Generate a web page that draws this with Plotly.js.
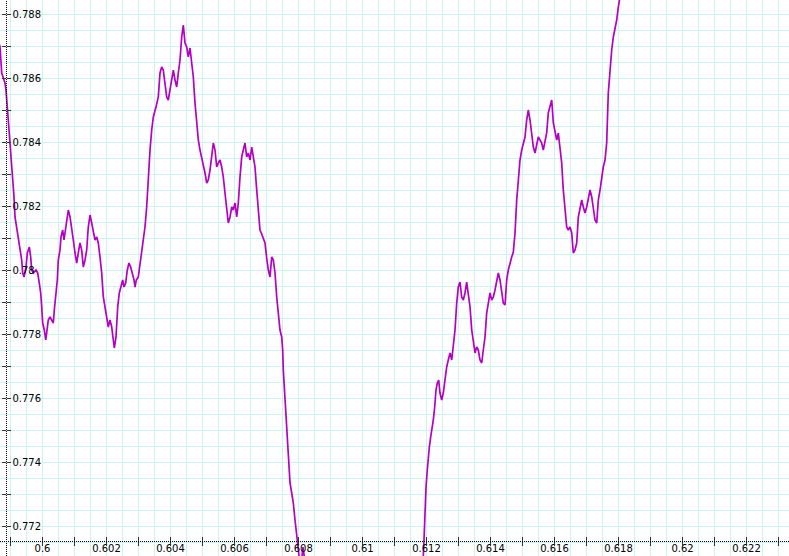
<!DOCTYPE html>
<html><head><meta charset="utf-8">
<script src="https://cdn.plot.ly/plotly-3.0.1.min.js"></script>
<style>html,body{margin:0;padding:0;background:#fff;overflow:hidden}#chart{width:789px;height:556px}</style>
</head><body><div id="chart"></div>
<script>
// Curve samples (x, y)
const xValues = [
0.598609,0.598672,0.598725,0.598775,0.598828,0.598860,0.598900,0.598931,0.598985,0.599038,
0.599069,0.599110,0.599141,0.599194,0.599244,0.599297,0.599350,0.599381,0.599422,0.599485,
0.599525,0.599588,0.599631,0.599663,0.599713,0.599797,0.599850,0.599900,0.599944,0.599975,
0.600006,0.600056,0.600100,0.600131,0.600181,0.600235,0.600288,0.600338,0.600369,0.600422,
0.600463,0.600494,0.600547,0.600578,0.600631,0.600672,0.600703,0.600756,0.600806,0.600860,
0.600913,0.600963,0.601016,0.601069,0.601119,0.601172,0.601225,0.601275,0.601328,0.601381,
0.601431,0.601485,0.601538,0.601588,0.601641,0.601694,0.601744,0.601797,0.601850,0.601900,
0.601953,0.602006,0.602056,0.602110,0.602163,0.602213,0.602244,0.602297,0.602350,0.602400,
0.602444,0.602506,0.602547,0.602600,0.602650,0.602703,0.602756,0.602806,0.602860,0.602891,
0.602931,0.602994,0.603100,0.603150,0.603203,0.603256,0.603306,0.603360,0.603413,0.603463,
0.603547,0.603619,0.603672,0.603725,0.603775,0.603828,0.603881,0.603931,0.603985,0.604038,
0.604088,0.604141,0.604194,0.604244,0.604297,0.604350,0.604400,0.604453,0.604506,0.604556,
0.604610,0.604663,0.604713,0.604766,0.604819,0.604869,0.604922,0.604975,0.605025,0.605078,
0.605131,0.605181,0.605235,0.605288,0.605338,0.605391,0.605444,0.605494,0.605547,0.605600,
0.605650,0.605703,0.605756,0.605806,0.605860,0.605913,0.605963,0.606016,0.606069,0.606119,
0.606172,0.606225,0.606275,0.606328,0.606381,0.606431,0.606485,0.606538,0.606588,0.606641,
0.606694,0.606744,0.606797,0.606850,0.606900,0.606953,0.607006,0.607056,0.607110,0.607163,
0.607213,0.607266,0.607319,0.607369,0.607422,0.607475,0.607506,0.607525,0.607578,0.607631,
0.607663,0.607703,0.607735,0.607788,0.607838,0.607891,0.607944,0.607994,0.608025,0.608078,
0.608141,0.608203,0.608672,0.609610,0.610547,0.611485,
0.611900,0.611922,0.611953,0.611985,0.612025,0.612056,0.612088,0.612131,0.612172,0.612213,
0.612256,0.612297,0.612338,0.612381,0.612422,0.612475,0.612525,0.612578,0.612631,0.612681,
0.612735,0.612788,0.612838,0.612891,0.612944,0.612994,0.613047,0.613100,0.613150,0.613203,
0.613256,0.613306,0.613360,0.613413,0.613463,0.613516,0.613569,0.613619,0.613672,0.613725,
0.613775,0.613828,0.613881,0.613931,0.613985,0.614038,0.614088,0.614141,0.614194,0.614244,
0.614297,0.614350,0.614400,0.614453,0.614506,0.614556,0.614610,0.614663,0.614713,0.614766,
0.614819,0.614869,0.614922,0.614975,0.615025,0.615078,0.615131,0.615181,0.615235,0.615288,
0.615338,0.615391,0.615444,0.615494,0.615547,0.615600,0.615650,0.615703,0.615756,0.615806,
0.615860,0.615913,0.615963,0.616016,0.616069,0.616119,0.616172,0.616225,0.616275,0.616328,
0.616381,0.616431,0.616485,0.616538,0.616588,0.616641,0.616694,0.616744,0.616797,0.616850,
0.616900,0.616953,0.617006,0.617056,0.617110,0.617163,0.617213,0.617266,0.617319,0.617369,
0.617422,0.617475,0.617525,0.617578,0.617631,0.617681,0.617735,0.617788,0.617838,0.617891,
0.617944,0.617994,0.618047,0.618110
];
const yValues = [
0.787188,0.786979,0.786157,0.786000,0.785844,0.785625,0.785094,0.784688,0.784063,0.783344,
0.782719,0.782282,0.781657,0.781344,0.781032,0.780719,0.780313,0.779907,0.779782,0.780094,
0.780532,0.780719,0.780407,0.780000,0.779907,0.780000,0.779907,0.779594,0.779282,0.778844,
0.778344,0.778125,0.777813,0.778032,0.778438,0.778532,0.778438,0.778344,0.778750,0.779282,
0.779688,0.780313,0.780625,0.781032,0.781250,0.780938,0.781157,0.781563,0.781875,0.781657,
0.781344,0.780938,0.780532,0.780219,0.780532,0.780844,0.780625,0.780094,0.780313,0.780625,
0.781344,0.781719,0.781469,0.781157,0.780938,0.781032,0.780844,0.780407,0.779907,0.779157,
0.778844,0.778532,0.778219,0.778438,0.778219,0.777813,0.777563,0.777907,0.778844,0.779282,
0.779469,0.779688,0.779469,0.779594,0.780000,0.780219,0.780094,0.779907,0.779688,0.779469,
0.779688,0.779782,0.780625,0.780938,0.781344,0.781969,0.782907,0.783750,0.784375,0.784782,
0.785094,0.785407,0.786157,0.786344,0.786250,0.785719,0.785407,0.785313,0.785625,0.786032,
0.786250,0.785938,0.785719,0.786157,0.786563,0.787282,0.787657,0.787094,0.786969,0.786657,
0.786938,0.786469,0.786032,0.785219,0.784469,0.784063,0.783750,0.783532,0.783344,0.783032,
0.782719,0.782813,0.783125,0.783657,0.783969,0.783750,0.783219,0.783344,0.783438,0.783219,
0.782907,0.782407,0.781875,0.781469,0.781657,0.781969,0.781875,0.782094,0.781657,0.782094,
0.782907,0.783532,0.783750,0.783969,0.783532,0.783657,0.783438,0.783844,0.783532,0.783219,
0.782500,0.781875,0.781250,0.781125,0.781000,0.780844,0.780375,0.780000,0.779782,0.780407,
0.780313,0.779907,0.779157,0.778657,0.778125,0.777907,0.777500,0.776875,0.776032,0.775219,
0.774594,0.773969,0.773344,0.773032,0.772719,0.772188,0.771657,0.771250,0.771000,0.770750,
0.771344,0.770875,0.769688,0.768750,0.769063,0.770313,
0.771063,0.771563,0.772500,0.773219,0.773750,0.774282,0.774469,0.774782,0.775000,0.775313,
0.775719,0.776250,0.776469,0.776563,0.776157,0.775938,0.776157,0.776657,0.776969,0.777188,
0.777407,0.777188,0.777594,0.778125,0.778969,0.779469,0.779625,0.779157,0.779063,0.779282,
0.779625,0.779282,0.778844,0.778125,0.777719,0.777407,0.777594,0.777500,0.777188,0.777094,
0.777500,0.777907,0.778657,0.778969,0.779282,0.779063,0.779157,0.779375,0.779688,0.779907,
0.779688,0.779282,0.778969,0.778907,0.779688,0.780000,0.780250,0.780407,0.780563,0.781157,
0.782188,0.782907,0.783438,0.783750,0.783969,0.784157,0.784688,0.785000,0.784688,0.784282,
0.783844,0.783657,0.783969,0.784157,0.784063,0.783969,0.783750,0.783969,0.784282,0.784907,
0.785094,0.785313,0.784594,0.784375,0.784063,0.784282,0.783844,0.783344,0.782500,0.781969,
0.781344,0.781250,0.781344,0.781157,0.780532,0.780625,0.780844,0.781657,0.781969,0.782188,
0.781969,0.781782,0.781969,0.782282,0.782500,0.782282,0.781969,0.781563,0.781469,0.782188,
0.782500,0.782907,0.783219,0.783438,0.783969,0.785532,0.786344,0.786876,0.787282,0.787500,
0.787813,0.788219,0.788594,0.788907
];
const xTickValues = [0.6,0.602,0.604,0.606,0.608,0.61,0.612,0.614,0.616,0.618,0.62,0.622];
const xTickLabels = ['0.6','0.602','0.604','0.606','0.608','0.61','0.612','0.614','0.616','0.618','0.62','0.622'];
const yTickValues = [0.772,0.774,0.776,0.778,0.78,0.782,0.784,0.786,0.788];
const yTickLabels = ['0.772','0.774','0.776','0.778','0.78','0.782','0.784','0.786','0.788'];

const xRange = [0.598672, 0.623328];
const yRange = [0.771063, 0.788438];
const xAxisPos = 0.0261;   // paper fraction of horizontal axis line
const yAxisPos = 0.0082;   // paper fraction of vertical axis line
const gridColor = '#cdf2f2';
const font = {family: 'DejaVu Sans, Verdana, sans-serif', size: 10, color: '#000'};

const traces = [
  {x: xValues, y: yValues, type: 'scatter', mode: 'lines',
   line: {color: '#b400c4', width: 1.7}, hoverinfo: 'skip', showlegend: false},
  {x: [], y: [], xaxis: 'x2', yaxis: 'y2', type: 'scatter', showlegend: false},
  {x: [], y: [], xaxis: 'x3', yaxis: 'y3', type: 'scatter', showlegend: false},
  {x: [], y: [], xaxis: 'x4', yaxis: 'y4', type: 'scatter', showlegend: false}
];

const hidden = {showticklabels: false, showgrid: false, zeroline: false, showline: false};
const layout = {
  width: 789, height: 556,
  margin: {l: 0, r: 0, t: 0, b: 0, pad: 0},
  paper_bgcolor: '#fff', plot_bgcolor: '#fff',
  showlegend: false, font: font,
  xaxis: {range: xRange, tickmode: 'linear', tick0: 0.599, dtick: 0.0005,
    showgrid: true, gridcolor: gridColor, gridwidth: 1, ticks: '', showticklabels: false,
    zeroline: false, showline: false, fixedrange: true},
  yaxis: {range: yRange, tickmode: 'linear', tick0: 0.772, dtick: 0.0005,
    showgrid: true, gridcolor: gridColor, gridwidth: 1, ticks: '', showticklabels: false,
    zeroline: false, showline: false, fixedrange: true},
  xaxis2: Object.assign({}, hidden, {range: xRange, overlaying: 'x', anchor: 'free', position: xAxisPos,
    tickmode: 'array', tickvals: xTickValues, ticktext: xTickLabels, showticklabels: true,
    ticks: '', ticklabelstandoff: 0, tickfont: font}),
  yaxis2: Object.assign({}, hidden, {range: yRange, overlaying: 'y', anchor: 'free', position: yAxisPos,
    side: 'left', tickmode: 'array', tickvals: yTickValues, ticktext: yTickLabels, showticklabels: true,
    ticklabelposition: 'inside', ticks: '', ticklabelstandoff: 2, tickfont: font}),
  xaxis3: Object.assign({}, hidden, {range: xRange, overlaying: 'x', anchor: 'free', position: xAxisPos,
    tickmode: 'linear', tick0: 0.599, dtick: 0.001, ticks: 'outside', ticklen: 4, tickwidth: 1, tickcolor: '#333'}),
  yaxis3: Object.assign({}, hidden, {range: yRange, overlaying: 'y', anchor: 'free', position: yAxisPos,
    tickmode: 'linear', tick0: 0.772, dtick: 0.001, ticks: 'outside', ticklen: 4, tickwidth: 1, tickcolor: '#333'}),
  xaxis4: Object.assign({}, hidden, {range: xRange, overlaying: 'x', anchor: 'free', position: xAxisPos,
    tickmode: 'linear', tick0: 0.599, dtick: 0.001, ticks: 'inside', ticklen: 4, tickwidth: 1, tickcolor: '#333'}),
  yaxis4: Object.assign({}, hidden, {range: yRange, overlaying: 'y', anchor: 'free', position: yAxisPos,
    tickmode: 'linear', tick0: 0.772, dtick: 0.001, ticks: 'inside', ticklen: 4, tickwidth: 1, tickcolor: '#333'}),
  shapes: [
    {type: 'line', xref: 'paper', yref: 'paper', x0: 0, x1: 1, y0: xAxisPos, y1: xAxisPos,
     line: {color: '#000', width: 1, dash: '1px,1px'}, layer: 'above'},
    {type: 'line', xref: 'paper', yref: 'paper', x0: yAxisPos, x1: yAxisPos, y0: 0, y1: 1,
     line: {color: '#000', width: 1, dash: '1px,1px'}, layer: 'above'}
  ]
};

Plotly.newPlot('chart', traces, layout, {displayModeBar: false, staticPlot: true});
</script>
</body></html>
